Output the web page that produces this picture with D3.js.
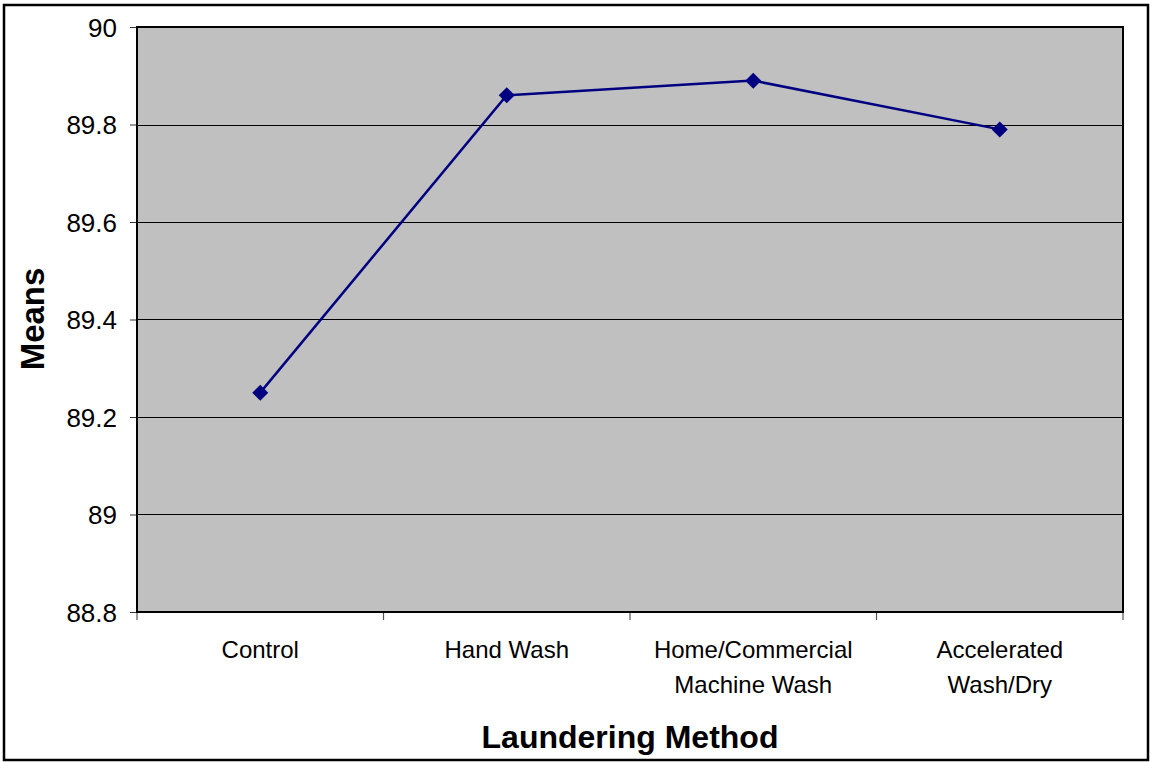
<!DOCTYPE html>
<html><head><meta charset="utf-8">
<script src="https://cdn.jsdelivr.net/npm/d3@7"></script>
<style>body{margin:0;background:#fff}svg{display:block}text{font-family:"Liberation Sans",Arial,sans-serif}</style>
</head><body>
<script>
const categories = [["Control"],["Hand Wash"],["Home/Commercial","Machine Wash"],["Accelerated","Wash/Dry"]];
const categoryKeys = ["Control","Hand Wash","Home/Commercial Machine Wash","Accelerated Wash/Dry"];
const means = [89.25, 89.86, 89.89, 89.79];
const yTicks = [88.8, 89, 89.2, 89.4, 89.6, 89.8, 90];
const yTickLabels = ["88.8","89","89.2","89.4","89.6","89.8","90"];

const W = 1153, H = 762;
const svg = d3.select("body").append("svg").attr("width", W).attr("height", H);
svg.append("rect").attr("x",4).attr("y",5).attr("width",1144).attr("height",755)
  .attr("fill","#fff").attr("stroke","#000").attr("stroke-width",2.5);

const L = 137, R = 1123, T = 27, B = 612;
const x = d3.scaleBand().domain(categoryKeys).range([L, R]);
const y = d3.scaleLinear().domain([88.8, 90]).range([B, T]);

svg.append("rect").attr("x",L).attr("y",T).attr("width",R-L).attr("height",B-T).attr("fill","#c0c0c0");

// gridlines
svg.append("g").selectAll("line").data(yTicks.slice(1,-1)).join("line")
  .attr("x1",L).attr("x2",R).attr("y1",d=>Math.round(y(d))+0.5).attr("y2",d=>Math.round(y(d))+0.5)
  .attr("stroke","#000").attr("stroke-width",1);

// y axis
const yAxis = d3.axisLeft(y).tickValues(yTicks).tickFormat((d,i)=>yTickLabels[i]).tickSize(7).tickPadding(13);
const gy = svg.append("g").attr("transform",`translate(${L},0)`).call(yAxis);
gy.select(".domain").remove();
gy.selectAll(".tick line").attr("stroke","#333");
gy.selectAll(".tick text").attr("font-size",26).attr("fill","#000").attr("dy","0.35em");

// x axis ticks at band boundaries
const bounds = categoryKeys.map(k=>x(k)).concat([R]);
svg.append("g").selectAll("line").data(bounds).join("line")
  .attr("x1",d=>d).attr("x2",d=>d).attr("y1",B).attr("y2",B+8).attr("stroke","#555").attr("stroke-width",1.2);

// x labels
const gx = svg.append("g");
categories.forEach((lines,i)=>{
  const cx = x(categoryKeys[i]) + x.bandwidth()/2;
  lines.forEach((t,j)=>{
    gx.append("text").attr("x",cx).attr("y",658 + j*35).attr("text-anchor","middle")
      .attr("font-size",24).attr("fill","#000").text(t);
  });
});

// plot border
svg.append("rect").attr("x",L).attr("y",T).attr("width",R-L).attr("height",B-T)
  .attr("fill","none").attr("stroke","#000").attr("stroke-width",2);

// line
const cxs = d=>x(d)+x.bandwidth()/2;
const line = d3.line().x((d,i)=>cxs(categoryKeys[i])).y(d=>y(d));
svg.append("path").datum(means).attr("d",line).attr("fill","none").attr("stroke","#000080").attr("stroke-width",2.5);
svg.append("g").selectAll("path").data(means).join("path")
  .attr("d","M0,-8L8,0L0,8L-8,0Z")
  .attr("transform",(d,i)=>`translate(${cxs(categoryKeys[i])},${y(d)})`)
  .attr("fill","#000080");

// titles
svg.append("text").attr("x",630).attr("y",748).attr("text-anchor","middle")
  .attr("font-size",32).attr("font-weight","bold").text("Laundering Method");
svg.append("text").attr("transform","translate(44,319) rotate(-90)").attr("text-anchor","middle")
  .attr("font-size",33).attr("font-weight","bold").text("Means");
</script>
</body></html>
